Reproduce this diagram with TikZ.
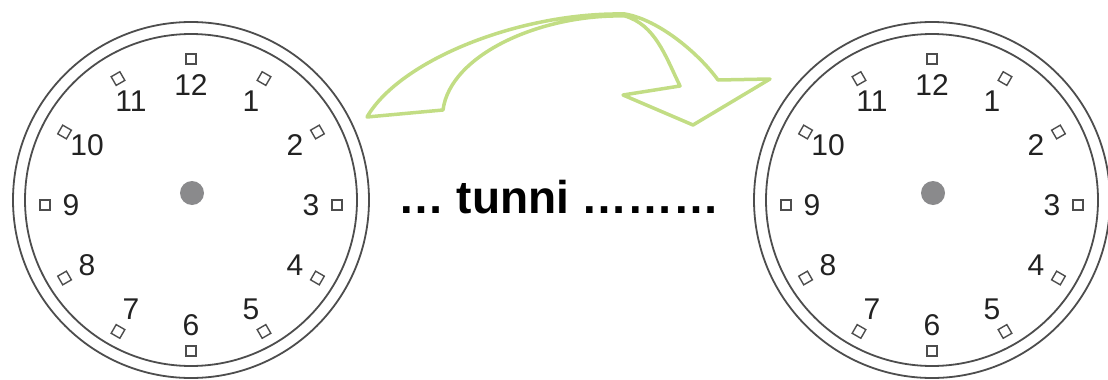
\documentclass[tikz,border=0pt]{standalone}
\usepackage{fontspec}
\setmainfont{Liberation Sans}
\usepackage{xcolor}
\definecolor{rimgray}{HTML}{4d4d4d}
\definecolor{numgray}{HTML}{222222}
\definecolor{hubgray}{HTML}{8a8a8c}
\definecolor{leafgreen}{HTML}{c2dd84}
\usetikzlibrary{calc}

\begin{document}
\begin{tikzpicture}[
  x=1pt, y=-1pt,
  rim/.style={circle, draw=rimgray, line width=1.8pt, inner sep=0pt},
  tickbox/.style={rectangle, draw=rimgray, line width=1.4pt, minimum size=10pt, inner sep=0pt},
  numeral/.style={font=\fontsize{30}{30}\selectfont, text=numgray, inner sep=0pt},
  hub/.style={circle, fill=hubgray, minimum size=24pt, inner sep=0pt},
  bendarrow/.style={draw=leafgreen, line width=3.5pt, line join=round, line cap=round},
]
\useasboundingbox (0,0) rectangle (1108,380);

% Zifferblaetter
\foreach \cx/\nm in {191/left, 932/right}{
  \node[rim, minimum size=356pt] (\nm rim) at (\cx,200) {};
  \node[rim, minimum size=332pt] (\nm inner) at (\cx,200) {};
  \node[hub] (\nm hub) at (\cx+1,193) {};
  \begin{scope}[shift={(\cx,205)}]
    \foreach \h in {1,...,12}{
      \node[tickbox, rotate=90-\h*30] (\nm box\h) at (90-\h*30:146pt) {};
      \node[numeral] (\nm num\h) at (90-\h*30:120pt) {\h};
    }
  \end{scope}
}

% Text in der Mitte
\node[font=\bfseries\fontsize{46}{48}\selectfont, anchor=base, inner sep=0pt] (caption) at (559,213) {… tunni ………};

% Gebogener Pfeil
\draw[bendarrow]
  (367,117) .. controls (400,60) and (520,12) .. (625,14)
  .. controls (660,20) and (700,55) .. (718,80)
  -- (770,79) -- (693,125) -- (623,95) -- (680,86)
  .. controls (665,55) and (655,25) .. (625,16)
  .. controls (540,14) and (450,55) .. (443,110)
  -- cycle;

\end{tikzpicture}
\end{document}
